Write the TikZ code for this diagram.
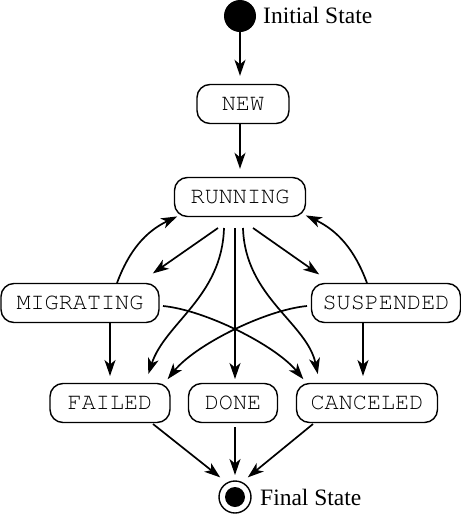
\documentclass[tikz,border=0pt]{standalone}
\usepackage[T1]{fontenc}
\usepackage{fontspec}
\setmainfont{Liberation Serif}
\setmonofont{Liberation Mono}
\usetikzlibrary{arrows.meta}
\newcommand{\courierfont}{\fontencoding{T1}\fontfamily{pcr}\fontsize{23.5}{28}\selectfont}
\begin{document}
\begin{tikzpicture}[x=1pt,y=-1pt,
  statebox/.style={draw, line width=1.4pt, rounded corners=13pt, minimum height=39pt,
    inner xsep=0pt, inner ysep=0pt, font=\courierfont},
  lbl/.style={inner sep=0pt, anchor=base west, font=\fontsize{23.5}{28}\selectfont},
  arr/.style={line width=1.7pt, -{Stealth[length=16pt,width=11pt,inset=4.5pt]}, shorten >=1pt}]
\useasboundingbox (0,0) rectangle (461,520);
% nodes
\node[circle, fill=black, minimum size=32pt, inner sep=0pt] (init) at (240,16) {};
\node[lbl] (initlbl) at (263,23) {Initial State};
\node[statebox, minimum width=92pt] (new) at (243,104) {NEW};
\node[statebox, minimum width=131pt] (running) at (240,197) {RUNNING};
\node[statebox, minimum width=158pt] (migrating) at (80,303) {MIGRATING};
\node[statebox, minimum width=149pt] (suspended) at (386,303) {SUSPENDED};
\node[statebox, minimum width=120pt] (failed) at (110,403) {FAILED};
\node[statebox, minimum width=89pt] (done) at (233,403) {DONE};
\node[statebox, minimum width=141pt] (canceled) at (367,403) {CANCELED};
\node[circle, draw, line width=1.4pt, minimum size=32pt, inner sep=0pt] (final) at (235,497) {};
\node[circle, fill=black, minimum size=20pt, inner sep=0pt] (finaldot) at (final.center) {};
\node[lbl] (finallbl) at (260,505) {Final State};
% connectors
\draw[arr] (init) -- ([shift={(-3,-7)}]new.north);
\draw[arr] ([shift={(-3,0)}]new.south) -- ([shift={(0,-7)}]running.north);
\draw[arr] ([shift={(-22,31)}]running.center) -- ([shift={(72,-29)}]migrating.center);
\draw[arr] ([shift={(37,-20)}]migrating.center) to[bend left=22] ([shift={(-62,19)}]running.center);
\draw[arr] ([shift={(13,31)}]running.center) -- ([shift={(-66,-28)}]suspended.center);
\draw[arr] ([shift={(-19,-20)}]suspended.center) to[bend right=22] ([shift={(65,18)}]running.center);
\draw[arr] ([shift={(-16,31)}]running.center) .. controls ([shift={(-18,100)}]running.center) and ([shift={(55,-80)}]failed.center) .. ([shift={(38,-28)}]failed.center);
\draw[arr] ([shift={(3,31)}]running.center) .. controls ([shift={(5,100)}]running.center) and ([shift={(-60,-80)}]canceled.center) .. ([shift={(-49,-28)}]canceled.center);
\draw[arr] ([shift={(-5,31)}]running.center) -- ([shift={(2,-23)}]done.center);
\draw[arr] ([shift={(30,20)}]migrating.center) -- ([shift={(0,-26)}]failed.center);
\draw[arr] ([shift={(-23,20)}]suspended.center) -- ([shift={(-4,-26)}]canceled.center);
\draw[arr] ([shift={(83,3)}]migrating.center) .. controls ([shift={(125,7)}]migrating.center) and ([shift={(-92,-58)}]canceled.center) .. ([shift={(-63,-23)}]canceled.center);
\draw[arr] ([shift={(-79,3)}]suspended.center) .. controls ([shift={(-121,7)}]suspended.center) and ([shift={(85,-58)}]failed.center) .. ([shift={(57,-23)}]failed.center);
\draw[arr] ([shift={(43,21)}]failed.center) -- ([shift={(-14,-19)}]final.center);
\draw[arr] ([shift={(2,24)}]done.center) -- ([shift={(0,-21)}]final.center);
\draw[arr] ([shift={(-54,21)}]canceled.center) -- ([shift={(12,-19)}]final.center);
\end{tikzpicture}
\end{document}
